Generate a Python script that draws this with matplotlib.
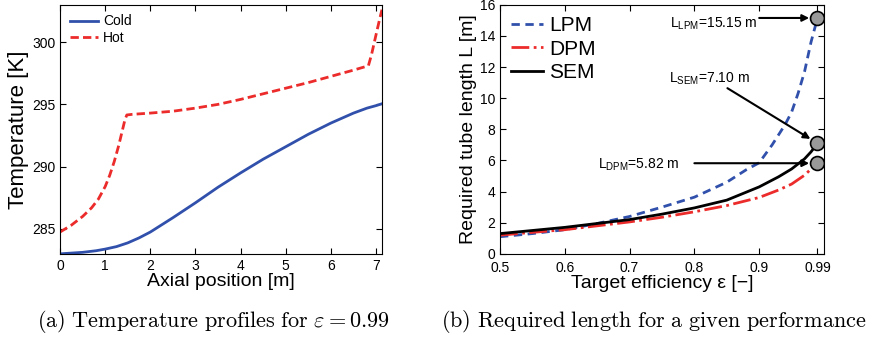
import matplotlib
matplotlib.use("Agg")
import matplotlib.pyplot as plt

plt.rcParams['font.family'] = ['Liberation Sans', 'DejaVu Sans']
plt.rcParams['mathtext.fontset'] = 'custom'
plt.rcParams['mathtext.rm'] = 'Liberation Sans'
plt.rcParams['mathtext.it'] = 'Liberation Sans:italic'
plt.rcParams['xtick.direction'] = 'in'
plt.rcParams['ytick.direction'] = 'in'
plt.rcParams['xtick.top'] = True
plt.rcParams['ytick.right'] = True

# (a) temperature profiles along the tube
cold_x = [0, 0.5, 0.8, 1.0, 1.25, 1.5, 1.75, 2.0, 2.5, 3.0, 3.5, 4.0, 4.5, 5.0,
          5.5, 6.0, 6.5, 6.8, 7.0, 7.13]
cold_T = [283.0, 283.12, 283.25, 283.38, 283.58, 283.88, 284.28, 284.75, 285.9,
          287.1, 288.35, 289.5, 290.6, 291.6, 292.6, 293.5, 294.3, 294.7, 294.9, 295.05]

hot_x = [0, 0.25, 0.5, 0.7, 0.85, 1.0, 1.1, 1.2, 1.3, 1.38, 1.44, 1.48, 1.6, 2.0,
         2.5, 3.0, 3.5, 4.0, 4.5, 5.0, 5.5, 6.0, 6.5, 6.83, 6.9, 7.0, 7.07, 7.13]
hot_T = [284.75, 285.3, 286.0, 286.7, 287.4, 288.4, 289.3, 290.4, 291.7, 292.9,
         293.8, 294.15, 294.2, 294.3, 294.45, 294.7, 295.0, 295.4, 295.85, 296.3,
         296.75, 297.25, 297.75, 298.1, 299.0, 300.6, 301.7, 302.6]

# (b) required length vs target efficiency
lpm_eps = [0.5, 0.55, 0.6, 0.65, 0.7, 0.75, 0.8, 0.85, 0.88, 0.9, 0.92, 0.94, 0.95,
           0.96, 0.97, 0.98, 0.99]
lpm_L = [1.1, 1.3, 1.55, 1.95, 2.4, 3.0, 3.64, 4.6, 5.4, 5.85, 7.0, 8.3, 9.1,
         10.3, 11.7, 13.6, 15.15]

dpm_eps = [0.5, 0.55, 0.6, 0.65, 0.7, 0.75, 0.8, 0.85, 0.9, 0.93, 0.95, 0.97, 0.98, 0.99]
dpm_L = [1.2, 1.38, 1.55, 1.8, 2.05, 2.35, 2.7, 3.1, 3.62, 4.1, 4.48, 5.05, 5.45, 5.82]

sem_eps = [0.5, 0.55, 0.6, 0.65, 0.7, 0.75, 0.8, 0.85, 0.9, 0.93, 0.95, 0.97, 0.98, 0.99]
sem_L = [1.3, 1.5, 1.7, 1.95, 2.2, 2.55, 2.95, 3.45, 4.3, 4.95, 5.45, 6.1, 6.55, 7.1]

eps_target = 0.99
L_lpm, L_sem, L_dpm = 15.15, 7.10, 5.82

blue = '#3050ab'
red = '#ec2b2b'

fig = plt.figure(figsize=(8.7, 3.38), dpi=100)
ax1 = fig.add_axes([0.069, 0.249, 0.370, 0.737])
ax2 = fig.add_axes([0.5747, 0.249, 0.3724, 0.737])

ax1.plot(cold_x, cold_T, color=blue, lw=2.0, label='Cold')
ax1.plot(hot_x, hot_T, color=red, lw=2.0, ls=(0, (3, 1.5)), label='Hot')
ax1.set_xlim(0, 7.13)
ax1.set_ylim(283, 303)
ax1.set_xticks(range(8))
ax1.set_yticks([285, 290, 295, 300])
ax1.tick_params(labelsize=10, length=4)
ax1.set_xlabel('Axial position [m]', fontsize=14, labelpad=0)
ax1.set_ylabel('Temperature [K]', fontsize=16, labelpad=2)
ax1.legend(loc='upper left', frameon=False, fontsize=10, handlelength=2.0,
           labelspacing=0.2, borderaxespad=0.3, handletextpad=0.4)

ax2.plot(lpm_eps, lpm_L, color=blue, lw=2.0, ls=(0, (3, 2)), label='LPM')
ax2.plot(dpm_eps, dpm_L, color=red, lw=2.0, ls='-.', label='DPM')
ax2.plot(sem_eps, sem_L, color='k', lw=2.0, label='SEM')
ax2.plot([eps_target] * 3, [L_lpm, L_sem, L_dpm], 'o', color='#999999',
         mec='k', mew=1.2, ms=10, zorder=5)
ax2.set_xlim(0.5, 1.0)
ax2.set_ylim(0, 16)
ax2.set_xticks([0.5, 0.6, 0.7, 0.8, 0.9, 0.99])
ax2.set_xticklabels(['0.5', '0.6', '0.7', '0.8', '0.9', '0.99'])
ax2.set_yticks(range(0, 17, 2))
ax2.tick_params(labelsize=10, length=4)
ax2.tick_params(axis='x', pad=5)
ax2.set_xlabel('Target efficiency ε [−]', fontsize=14, labelpad=0)
ax2.set_ylabel('Required tube length L [m]', fontsize=14, labelpad=2)
ax2.legend(loc='upper left', frameon=False, fontsize=15, handlelength=1.5,
           labelspacing=0.22, borderaxespad=0.15, handletextpad=0.3)

arrow = dict(arrowstyle='-|>', color='k', lw=1.5, mutation_scale=10, shrinkA=0, shrinkB=6)
ax2.annotate('', xy=(eps_target, L_lpm), xytext=(0.9, L_lpm), arrowprops=arrow)
ax2.annotate('', xy=(eps_target, L_sem), xytext=(0.851, 10.64), arrowprops=arrow)
ax2.annotate('', xy=(eps_target, L_dpm), xytext=(0.80, L_dpm), arrowprops=arrow)
ax2.text(0.897, 14.75, r'L$_{\mathrm{LPM}}$=%.2f m' % L_lpm, fontsize=10,
         ha='right', va='center', math_fontfamily='custom')
ax2.text(0.886, 11.25, r'L$_{\mathrm{SEM}}$=%.2f m' % L_sem, fontsize=10,
         ha='right', va='center', math_fontfamily='custom')
ax2.text(0.777, 5.7, r'L$_{\mathrm{DPM}}$=%.2f m' % L_dpm, fontsize=10,
         ha='right', va='center', math_fontfamily='custom')

fig.text(0.245, 0.05, r'$\mathrm{(a)\ Temperature\ profiles\ for\ }\varepsilon = 0.99$',
         ha='center', va='center', fontsize=16, math_fontfamily='cm')
fig.text(0.752, 0.05, r'$\mathrm{(b)\ Required\ length\ for\ a\ given\ performance}$',
         ha='center', va='center', fontsize=16, math_fontfamily='cm')

fig.savefig('out.png', dpi=100)
